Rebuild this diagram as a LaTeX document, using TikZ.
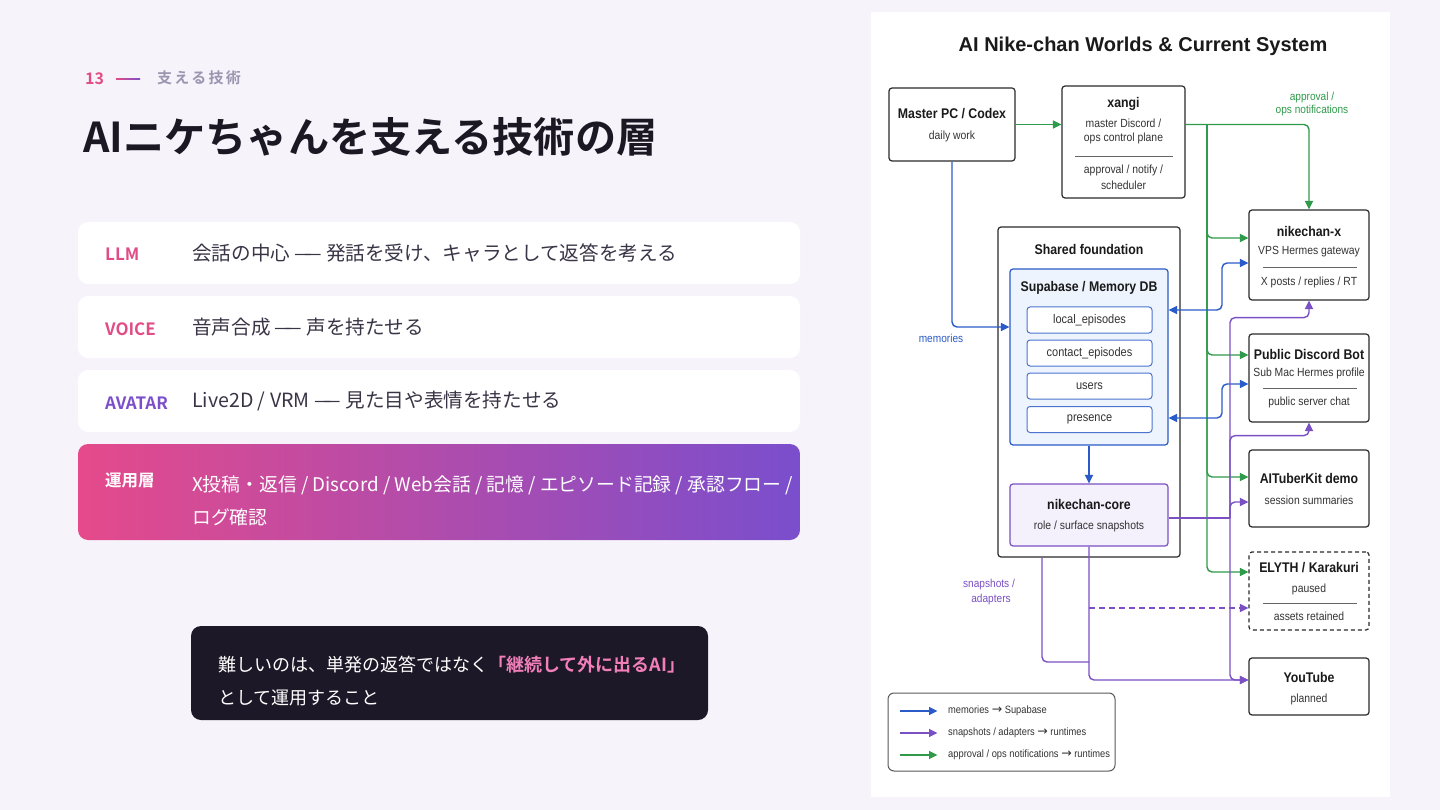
\documentclass[tikz,border=0pt]{standalone}
\usepackage{fontspec}
\setmainfont{Noto Sans CJK JP}[BoldFont={Noto Sans CJK JP Bold}]
\newfontfamily\dg[FakeStretch=0.88]{Liberation Sans}
\newfontfamily\dgt{Liberation Sans}
\newfontfamily\arr{DejaVu Sans}
\newfontfamily\jpls[LetterSpace=15,BoldFont={Noto Sans CJK JP Bold}]{Noto Sans CJK JP}
\usetikzlibrary{arrows.meta}
\definecolor{bg}{HTML}{F6F3FB}
\definecolor{ink}{HTML}{1B1824}
\definecolor{pinkc}{HTML}{E24C86}
\definecolor{purc}{HTML}{7B4FCB}
\definecolor{gradl}{HTML}{E54A8B}
\definecolor{gradr}{HTML}{7A4ECD}
\definecolor{greyl}{HTML}{9C95B0}
\definecolor{bodyc}{HTML}{3A3546}
\definecolor{darkbox}{HTML}{1D1827}
\definecolor{hl}{HTML}{F27FB9}
\definecolor{bline}{HTML}{2A5BC8}
\definecolor{gline}{HTML}{2F9A4A}
\definecolor{pline}{HTML}{7B50C4}
\definecolor{supaf}{HTML}{EEF4FD}
\definecolor{coref}{HTML}{F4F0FC}
\definecolor{boxd}{HTML}{2B2B2B}
\definecolor{txtd}{HTML}{1A1A1A}
\definecolor{txts}{HTML}{333333}
\newcommand\ldash{—\kern-0.4em—}
\newcommand\rarr{{\arr\fontsize{12.5}{12}\selectfont →}}
\tikzset{
  card/.style={fill=white, rounded corners=10pt, inner sep=0pt, minimum width=722pt},
  lab/.style={anchor=west, inner sep=0pt, font=\bfseries\fontsize{17}{17}\selectfont},
  body/.style={anchor=west, inner sep=0pt, text=bodyc, font=\fontsize{19.6}{19.6}\selectfont},
  box/.style={draw=boxd, line width=1.2pt, rounded corners=3pt, fill=white, inner sep=0pt},
  item/.style={draw=bline!85, line width=1pt, rounded corners=3pt, fill=white, inner sep=0pt, minimum width=125pt, minimum height=26pt},
  tb/.style={inner sep=0pt, text=txtd, font=\dg\bfseries\fontsize{14}{16}\selectfont},
  ts/.style={inner sep=0pt, text=txts, font=\dg\fontsize{11.8}{14}\selectfont},
  ti/.style={inner sep=0pt, text=txts, font=\dg\fontsize{12.5}{14}\selectfont},
  lg/.style={inner sep=0pt, anchor=west, text=txts, font=\dg\fontsize{10.6}{13}\selectfont},
  cl/.style={inner sep=0pt, font=\dg\fontsize{11.5}{13}\selectfont},
  divider/.style={draw=black!60, line width=0.7pt},
  tip/.style={-{Triangle[length=8.5pt,width=8pt]}},
  garrow/.style={draw=gline, line width=1.4pt, rounded corners=5pt, tip},
  barrow/.style={draw=bline, line width=1.4pt, rounded corners=5pt, tip},
  bbi/.style={draw=bline, line width=1.4pt, rounded corners=5pt, {Triangle[length=8.5pt,width=8pt]}-{Triangle[length=8.5pt,width=8pt]}},
  parrow/.style={draw=pline, line width=1.4pt, rounded corners=5pt, tip},
  pl/.style={draw=pline, line width=1.4pt, rounded corners=5pt},
}
\begin{document}
\begin{tikzpicture}[x=1pt,y=-1pt]
\path[use as bounding box, fill=bg] (0,0) rectangle (1440,810);

% ---------- left side ----------
\node[anchor=west, inner sep=0pt, text=pinkc, font=\bfseries\fontsize{16}{16}\selectfont] (num) at (85,79) {13};
\shade[left color=pinkc, right color=purc] (116,78.2) rectangle (140,79.8);
\node[anchor=west, inner sep=0pt, text=greyl, font=\jpls\bfseries\fontsize{15}{15}\selectfont] (kicker) at (157,78) {支える技術};
\node[anchor=west, inner sep=0pt, text=ink, font=\bfseries\fontsize{41.2}{41.2}\selectfont] (title) at (83,137) {AIニケちゃんを支える技術の層};

\node[card, minimum height=62pt] (llm) at (439,253) {};
\node[lab, text=pinkc] (llmL) at (105,254) {LLM};
\node[body] (llmT) at (192,253) {会話の中心 \ldash{} 発話を受け、キャラとして返答を考える};

\node[card, minimum height=62pt] (voice) at (439,327) {};
\node[lab, text=pinkc] (voiceL) at (105,329) {VOICE};
\node[body] (voiceT) at (192,327) {音声合成 \ldash{} 声を持たせる};

\node[card, minimum height=62pt] (avatar) at (439,401) {};
\node[lab, text=purc] (avatarL) at (105,403) {AVATAR};
\node[body] (avatarT) at (192,401) {Live2D / VRM \ldash{} 見た目や表情を持たせる};

\node[card, minimum height=96pt, left color=gradl, right color=gradr] (ops) at (439,492) {};
\node[lab, text=white, font=\bfseries\fontsize{16.5}{16.5}\selectfont] (opsL) at (105,480) {運用層};
\node[body, text=white, font=\fontsize{18.8}{18.8}\selectfont] (opsT1) at (192,485) {X投稿・返信 / Discord / Web会話 / 記憶 / エピソード記録 / 承認フロー /};
\node[body, text=white, font=\fontsize{18.8}{18.8}\selectfont] (opsT2) at (192,517) {ログ確認};

\node[fill=darkbox, rounded corners=10pt, minimum width=517pt, minimum height=94pt, inner sep=0pt] (note) at (449.5,673) {};
\node[anchor=west, inner sep=0pt, text=white, font=\fontsize{18}{18}\selectfont] (note1) at (218,665) {難しいのは、単発の返答ではなく{\bfseries\color{hl}「継続して外に出るAI」}};
\node[anchor=west, inner sep=0pt, text=white, font=\fontsize{18}{18}\selectfont] (note2) at (218,698) {として運用すること};

% ---------- right panel ----------
\node[fill=white, minimum width=519pt, minimum height=785pt, inner sep=0pt] (panel) at (1130.5,404.5) {};
\node[inner sep=0pt, text=txtd, font=\dgt\bfseries\fontsize{20}{22}\selectfont] (dtitle) at (1143,46) {AI Nike-chan Worlds \& Current System};

% boxes
\node[box, minimum width=126pt, minimum height=73pt] (master) at (952,124.5) {};
\node[tb] at (952,114) {Master PC / Codex};
\node[ts] at (952,136) {daily work};

\node[box, minimum width=123pt, minimum height=112pt] (xangi) at (1123.5,142) {};
\node[tb] at (1123.5,104) {xangi};
\node[ts] at (1123.5,123) {master Discord /};
\node[ts] at (1123.5,138) {ops control plane};
\draw[divider] (1075,156) -- (1173,156);
\node[ts] at (1123.5,170) {approval / notify /};
\node[ts] at (1123.5,185) {scheduler};

\node[box, minimum width=120pt, minimum height=90pt] (nx) at (1309,255) {};
\node[tb] at (1309,231) {nikechan-x};
\node[ts] at (1309,252) {VPS Hermes gateway};
\draw[divider] (1263,267) -- (1357,267);
\node[ts] at (1309,282) {X posts / replies / RT};

\node[box, minimum width=120pt, minimum height=88pt] (pdb) at (1309,378) {};
\node[tb] at (1309,354) {Public Discord Bot};
\node[ts] at (1309,373) {Sub Mac Hermes profile};
\draw[divider] (1263,388) -- (1357,388);
\node[ts] at (1309,402) {public server chat};

\node[box, minimum width=120pt, minimum height=77pt] (aitk) at (1309,488.5) {};
\node[tb] at (1309,478) {AITuberKit demo};
\node[ts] at (1309,500) {session summaries};

\node[box, dash pattern=on 4pt off 3pt, minimum width=120pt, minimum height=78pt] (elyth) at (1309,591) {};
\node[tb] at (1309,568) {ELYTH / Karakuri};
\node[ts] at (1309,589) {paused};
\draw[divider] (1263,603) -- (1357,603);
\node[ts] at (1309,616) {assets retained};

\node[box, minimum width=120pt, minimum height=57pt] (yt) at (1309,686.5) {};
\node[tb] at (1309,677) {YouTube};
\node[ts] at (1309,699) {planned};

\node[box, minimum width=182pt, minimum height=330pt] (shared) at (1089,392) {};
\node[tb] at (1089,249) {Shared foundation};

\node[box, draw=bline, fill=supaf, minimum width=158pt, minimum height=176pt] (supa) at (1089,357) {};
\node[tb] at (1089,288) {Supabase / Memory DB};
\node[item] (i1) at (1089.5,320) {};
\node[ti] at (1089.5,320) {local\_episodes};
\node[item] (i2) at (1089.5,353) {};
\node[ti] at (1089.5,353) {contact\_episodes};
\node[item] (i3) at (1089.5,386) {};
\node[ti] at (1089.5,386) {users};
\node[item] (i4) at (1089.5,419.5) {};
\node[ti] at (1089.5,419.5) {presence};

\node[box, draw=pline, fill=coref, minimum width=158pt, minimum height=62pt] (core) at (1089,515) {};
\node[tb] at (1089,504) {nikechan-core};
\node[ts] at (1089,526) {role / surface snapshots};

% connector labels
\node[cl, text=gline] at (1312,98) {approval /};
\node[cl, text=gline] at (1312,111) {ops notifications};
\node[cl, text=bline] at (941,338) {memories};
\node[cl, text=pline] at (989,585) {snapshots /};
\node[cl, text=pline] at (991,600) {adapters};

% green connectors
\coordinate (gtop) at (1207,125);
\draw[garrow] (master.east) -- (master.east -| xangi.west);
\draw[garrow] (xangi.east |- master.east) -| (nx.north);
\draw[garrow] (gtop) |- ([yshift=17pt]nx.west);
\draw[garrow] (gtop) |- ([yshift=23pt]pdb.west);
\draw[garrow] (gtop) |- ([yshift=11.5pt]aitk.west);
\draw[garrow] (gtop) |- ([yshift=19pt]elyth.west);

% blue connectors
\draw[barrow] (master.south) |- ([yshift=30pt]supa.west);
\draw[barrow] (supa.south) -- (core.north);
\coordinate (bx) at (1222,0);
\path ([yshift=47pt]supa.east) coordinate (s1)
      ([yshift=-61pt]supa.east) coordinate (s2)
      ([yshift=-8pt]nx.west) coordinate (n1)
      ([yshift=-6pt]pdb.west) coordinate (n2);
\draw[bbi] (s1) -- (s1 -| bx) |- (n1);
\draw[bbi] (s2) -- (s2 -| bx) |- (n2);

% purple connectors
\path ([yshift=-3pt]core.east) coordinate (c1);
\coordinate (px) at (1230,0);
\coordinate (pj) at (c1 -| px);
\draw[pl] (c1) -- (pj);
\draw[parrow] (pj) |- ([yshift=-17pt]nx.south) -- (nx.south);
\draw[parrow] (pj) |- ([yshift=-13pt]pdb.south) -- (pdb.south);
\draw[parrow] (pj) |- ([yshift=-13.5pt]aitk.west);
\draw[parrow] (pj) |- ([yshift=6.5pt]yt.west);
\draw[parrow] (core.south) |- ([yshift=6.5pt]yt.west);
\path ([yshift=-17pt]elyth.west) coordinate (e1);
\draw[parrow, dash pattern=on 6pt off 4pt] (core.south |- e1) -- (e1);
\path ([xshift=-47pt]shared.south) coordinate (sb);
\coordinate (sm) at (1089,662);
\draw[pl] (sb) |- (sm);

% legend
\node[draw=black!65, line width=1pt, rounded corners=6pt, fill=white, minimum width=227pt, minimum height=78pt, inner sep=0pt] (legend) at (1001.5,732) {};
\draw[barrow] ([xshift=12pt,yshift=21pt]legend.west) -- ++(38,0);
\draw[parrow] ([xshift=12pt,yshift=-1pt]legend.west) -- ++(38,0);
\draw[garrow] ([xshift=12pt,yshift=-23pt]legend.west) -- ++(38,0);
\node[lg] at (948,711) {memories \rarr{} Supabase};
\node[lg] at (948,733) {snapshots / adapters \rarr{} runtimes};
\node[lg] at (948,755) {approval / ops notifications \rarr{} runtimes};
\end{tikzpicture}
\end{document}
